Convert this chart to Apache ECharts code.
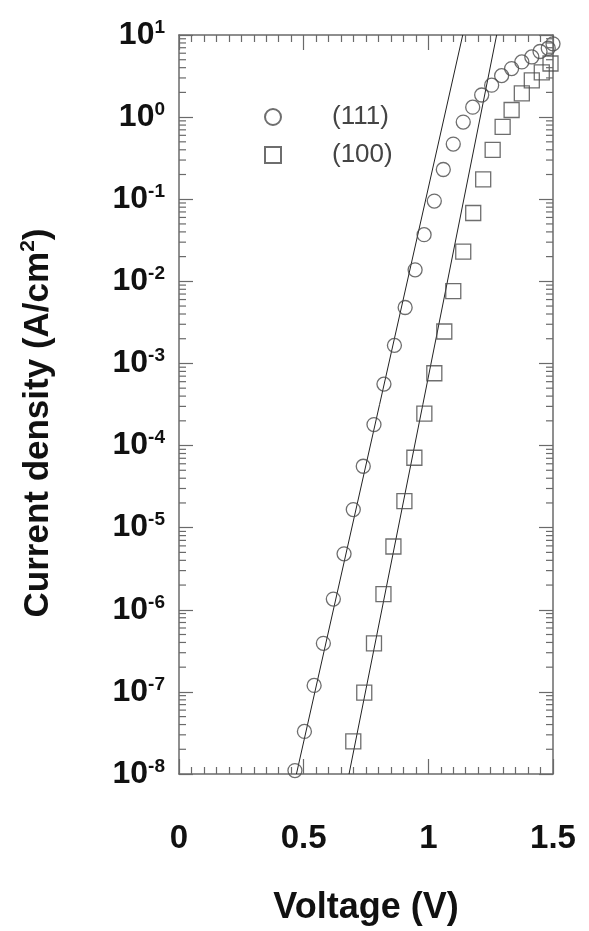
<!DOCTYPE html>
<html>
<head>
<meta charset="utf-8">
<script src="https://cdn.jsdelivr.net/npm/echarts@6/dist/echarts.min.js"></script>
<style>
  html, body { margin: 0; padding: 0; background: #fff; }
  #main { width: 589px; height: 931px; }
</style>
</head>
<body>
<div id="main"></div>
<script>
// (111) orientation - circles
const v111 = [0.465, 0.503, 0.542, 0.579, 0.619, 0.662, 0.699, 0.739, 0.782, 0.822,
  0.864, 0.907, 0.947, 0.983, 1.024, 1.060, 1.100, 1.140, 1.178, 1.214,
  1.254, 1.294, 1.334, 1.375, 1.415, 1.448, 1.481, 1.500]
const j111 = [1.1e-8, 3.3e-8, 1.2e-7, 3.9e-7, 1.35e-6, 4.8e-6, 1.66e-5, 5.6e-5, 1.8e-4, 5.6e-4,
  1.66e-3, 4.8e-3, 1.38e-2, 3.7e-2, 9.5e-2, 0.23, 0.47, 0.87, 1.32, 1.86,
  2.45, 3.2, 3.9, 4.7, 5.4, 6.3, 6.9, 7.8]

// (100) orientation - squares
const v100 = [0.699, 0.743, 0.782, 0.820, 0.860, 0.904, 0.944, 0.984, 1.024, 1.064,
  1.100, 1.140, 1.180, 1.220, 1.258, 1.298, 1.334, 1.375, 1.415, 1.455, 1.490]
const j100 = [2.5e-8, 9.8e-8, 3.9e-7, 1.55e-6, 5.9e-6, 2.1e-5, 7.1e-5, 2.45e-4, 7.6e-4, 2.45e-3,
  7.6e-3, 2.3e-2, 6.8e-2, 0.174, 0.40, 0.76, 1.22, 1.95, 2.8, 3.5, 4.5]

// straight fits (end points)
const fit111 = [[0.471, 1e-8], [1.138, 10]]
const fit100 = [[0.682, 1e-8], [1.274, 10]]

const seriesNames = ['(111)', '(100)']
const xTicks = [0, 0.5, 1, 1.5]
const yMin = 1e-8
const yMax = 10

// minor ticks of the log axis: 2..9 in every decade
const minorY = []
for (let e = -8; e < 1; e++) {
  for (let m = 2; m <= 9; m++) minorY.push(m * Math.pow(10, e))
}

const FONT = '"Liberation Sans", Arial, Helvetica, sans-serif'
const frame = '#6a6a6a'
const mark = '#4a4a4a'

const chart = echarts.init(document.getElementById('main'))

const xCommon = {
  type: 'value',
  min: 0,
  max: 1.5,
  interval: 0.5,
  axisLine: { show: true, onZero: false, lineStyle: { color: frame, width: 1.5 } },
  axisTick: { show: true, inside: true, length: 15, lineStyle: { color: frame, width: 1.2 } },
  minorTick: { show: true, splitNumber: 10, length: 7, lineStyle: { color: frame, width: 1.2 } },
  splitLine: { show: false }
}

const yCommon = {
  type: 'log',
  logBase: 10,
  min: yMin,
  max: yMax,
  splitNumber: 9,
  axisLine: { show: true, onZero: false, lineStyle: { color: frame, width: 1.5 } },
  axisTick: { show: true, inside: true, length: 14, lineStyle: { color: frame, width: 1.2 } },
  splitLine: { show: false }
}

chart.setOption({
  animation: false,
  backgroundColor: '#fff',
  grid: { left: 179, right: 36, top: 35, bottom: 156 },
  legend: {
    data: seriesNames,
    orient: 'vertical',
    left: 259,
    top: 99,
    itemGap: 12,
    itemWidth: 16,
    itemHeight: 16,
    textStyle: {
      fontFamily: FONT, fontSize: 26, color: '#444',
      padding: [0, 0, 0, 46]
    }
  },
  xAxis: [
    Object.assign({}, xCommon, {
      position: 'bottom',
      axisLabel: {
        margin: 48,
        fontFamily: FONT, fontSize: 33, fontWeight: 'bold', color: '#111',
        formatter: v => (xTicks.includes(v) ? String(v) : '')
      },
      name: 'Voltage (V)',
      nameLocation: 'middle',
      nameGap: 116,
      nameTextStyle: { fontFamily: FONT, fontSize: 36, fontWeight: 'bold', color: '#111' }
    }),
    Object.assign({}, xCommon, {
      position: 'top',
      axisLabel: { show: false }
    })
  ],
  yAxis: [
    Object.assign({}, yCommon, {
      position: 'left',
      axisLabel: {
        margin: 14,
        formatter: v => '{b|10}{s|' + Math.round(Math.log10(v)) + '}',
        rich: {
          b: { fontFamily: FONT, fontSize: 32, fontWeight: 'bold', color: '#111', lineHeight: 34 },
          s: { fontFamily: FONT, fontSize: 19, fontWeight: 'bold', color: '#111', lineHeight: 18, verticalAlign: 'top' }
        }
      }
    }),
    Object.assign({}, yCommon, {
      position: 'right',
      axisLabel: { show: false }
    })
  ],
  graphic: [{
    type: 'text',
    x: 38,
    y: 423,
    rotation: Math.PI / 2,
    style: {
      text: '{t|Current density (A/cm}{u|2}{t|)}',
      align: 'center',
      verticalAlign: 'middle',
      rich: {
        t: { fontFamily: FONT, fontSize: 35, fontWeight: 'bold', fill: '#111', lineHeight: 40 },
        u: { fontFamily: FONT, fontSize: 21, fontWeight: 'bold', fill: '#111', lineHeight: 22, verticalAlign: 'top' }
      }
    }
  }],
  series: [
    {
      name: 'fit (111)',
      type: 'line',
      data: fit111,
      symbol: 'none',
      lineStyle: { color: '#222', width: 1 },
      z: 3
    },
    {
      name: 'fit (100)',
      type: 'line',
      data: fit100,
      symbol: 'none',
      lineStyle: { color: '#222', width: 1 },
      z: 3
    },
    {
      name: seriesNames[0],
      type: 'scatter',
      symbol: 'circle',
      symbolSize: 14,
      data: v111.map((v, i) => [v, j111[i]]),
      itemStyle: { color: 'rgba(0,0,0,0)', borderColor: mark, borderWidth: 1.3 },
      clip: false,
      z: 4
    },
    {
      name: seriesNames[1],
      type: 'scatter',
      symbol: 'rect',
      symbolSize: 15,
      data: v100.map((v, i) => [v, j100[i]]),
      itemStyle: { color: 'rgba(0,0,0,0)', borderColor: mark, borderWidth: 1.3 },
      clip: false,
      z: 4
    },
    {
      name: 'minor ticks',
      type: 'custom',
      data: minorY.map(v => [0, v]),
      silent: true,
      z: 5,
      renderItem: (params, api) => {
        const y = api.value(1)
        const l = api.coord([0, y])
        const r = api.coord([1.5, y])
        const st = { stroke: frame, lineWidth: 1.2 }
        return {
          type: 'group',
          children: [
            { type: 'line', shape: { x1: l[0], y1: l[1], x2: l[0] + 7, y2: l[1] }, style: st },
            { type: 'line', shape: { x1: r[0] - 7, y1: r[1], x2: r[0], y2: r[1] }, style: st }
          ]
        }
      }
    }
  ]
})
</script>
</body>
</html>
